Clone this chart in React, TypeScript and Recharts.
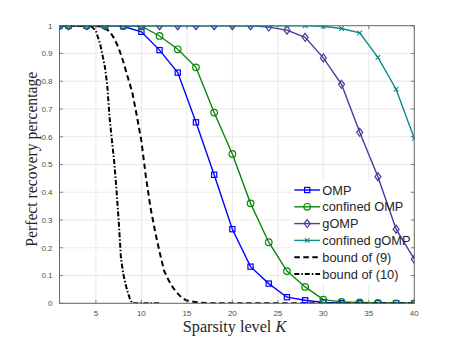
import React from 'react';
import { LineChart, Line, XAxis, YAxis, CartesianGrid, Customized } from 'recharts';

// ---------- data ----------
const kSeries = [1, 2, 4, 6, 8, 10, 12, 14, 16, 18, 20, 22, 24, 26, 28, 30, 32, 34, 36, 38, 40];
const ompVals = [1, 1, 1, 1, 0.998, 0.978, 0.912, 0.831, 0.652, 0.463, 0.267, 0.132, 0.071, 0.022, 0.011, 0.003, 0.001, 0, 0, 0, 0];
const confOmpVals = [1, 1, 1, 1, 1, 0.998, 0.963, 0.915, 0.85, 0.687, 0.538, 0.36, 0.22, 0.116, 0.059, 0.013, 0.005, 0.003, 0.001, 0, 0];
const gompVals = [1, 1, 1, 1, 1, 1, 1, 1, 1, 1, 1, 1, 0.995, 0.984, 0.958, 0.884, 0.789, 0.616, 0.456, 0.267, 0.159];
const confGompVals = [1, 1, 1, 1, 1, 1, 1, 1, 1, 1, 1, 1, 1, 1, 1, 0.998, 0.99, 0.974, 0.886, 0.771, 0.594];

const bound9K = [1, 2, 3, 4, 5, 5.5, 6, 6.5, 7, 7.5, 8, 8.5, 9, 9.5, 10, 10.5, 11, 11.5, 12, 12.5, 13, 13.5, 14, 14.5, 15, 16, 17, 18, 20, 25, 30, 35, 40];
const bound9Vals = [1, 1, 1, 1, 1, 0.997, 0.99, 0.98, 0.955, 0.92, 0.872, 0.815, 0.76, 0.675, 0.585, 0.455, 0.345, 0.26, 0.185, 0.117, 0.083, 0.055, 0.035, 0.018, 0.01, 0.004, 0.001, 0, 0, 0, 0, 0, 0];

const bound10K = [1, 2, 3, 4, 4.5, 5, 5.5, 6, 6.25, 6.5, 6.75, 7, 7.25, 7.5, 7.75, 8, 8.25, 8.5, 8.75, 9, 10, 11, 12];
const bound10Vals = [1, 1, 1, 1, 0.997, 0.982, 0.93, 0.85, 0.785, 0.67, 0.59, 0.515, 0.415, 0.3, 0.165, 0.108, 0.07, 0.04, 0.015, 0, 0, 0, 0];

const xTicks = [5, 10, 15, 20, 25, 30, 35, 40];
const yTicks = [0, 0.1, 0.2, 0.3, 0.4, 0.5, 0.6, 0.7, 0.8, 0.9, 1];
const yTickLabels = ['0', '0.1', '0.2', '0.3', '0.4', '0.5', '0.6', '0.7', '0.8', '0.9', '1'];

const seriesNames = ['OMP', 'confined OMP', 'gOMP', 'confined gOMP', 'bound of (9)', 'bound of (10)'];

const toRows = (ks: number[], vs: number[]) => ks.map((k, i) => ({ k, v: vs[i] }));
const ompData = toRows(kSeries, ompVals);
const confOmpData = toRows(kSeries, confOmpVals);
const gompData = toRows(kSeries, gompVals);
const confGompData = toRows(kSeries, confGompVals);
const bound9Data = toRows(bound9K, bound9Vals);
const bound10Data = toRows(bound10K, bound10Vals);

// ---------- styles ----------
const W = 450;
const H = 333;
const AX = 1; // axis thickness reserved
const MARGIN = { top: 17.7 - AX, right: 43.7 - AX, bottom: 37.7 - AX, left: 51.5 - AX };
const TM = 7;
const TL = 3.5;
const AXIS_COLOR = '#6a6a6a';
const GRID_COLOR = '#e6e6e6';
const TICK_TEXT = '#4d4d4d';
const SANS = '"Liberation Sans", Arial, Helvetica, sans-serif';
const SERIF = '"Liberation Serif", "Times New Roman", serif';

const C_OMP = '#0000ff';
const C_COMP = '#0b870b';
const C_GOMP = '#4a3a9c';
const C_CGOMP = '#0b8a8a';
const C_BOUND = '#000000';

const DASH9 = '5.5 3.5';
const DASH10 = '5 2 1.5 2';

// ---------- markers ----------
const Square = ({ cx, cy, c }: any) => (
  <rect x={cx - 2.6} y={cy - 2.6} width={5.2} height={5.2} fill="none" stroke={c} strokeWidth={1.2} />
);
const Circ = ({ cx, cy, c }: any) => <circle cx={cx} cy={cy} r={3.3} fill="none" stroke={c} strokeWidth={1.2} />;
const Diamond = ({ cx, cy, c }: any) => (
  <path d={`M${cx},${cy - 4} L${cx + 3},${cy} L${cx},${cy + 4} L${cx - 3},${cy} Z`} fill="none" stroke={c} strokeWidth={1.2} />
);
const XMark = ({ cx, cy, c }: any) => (
  <path d={`M${cx - 2.3},${cy - 2.3} L${cx + 2.3},${cy + 2.3} M${cx - 2.3},${cy + 2.3} L${cx + 2.3},${cy - 2.3}`} stroke={c} strokeWidth={1.1} />
);

const mk = (Comp: any, c: string) => (p: any) =>
  p.cx == null || p.cy == null ? <g key={`e${p.index}`} /> : <g key={`m${p.index}`}><Comp cx={p.cx} cy={p.cy} c={c} /></g>;

// ---------- ticks ----------
const LeftTick = (p: any) => {
  const { x, y, payload } = p;
  const ax = x + TM;
  const idx = yTicks.indexOf(payload.value);
  return (
    <g>
      <line x1={ax} x2={ax + TL} y1={y} y2={y} stroke={AXIS_COLOR} strokeWidth={0.8} />
      <text x={x} y={y} dy="0.35em" textAnchor="end" fontSize={8} fontFamily={SANS} fill={TICK_TEXT}>
        {idx >= 0 ? yTickLabels[idx] : String(payload.value)}
      </text>
    </g>
  );
};
const RightTick = (p: any) => {
  const { x, y } = p;
  const ax = x - TM;
  return <line x1={ax} x2={ax - TL} y1={y} y2={y} stroke={AXIS_COLOR} strokeWidth={0.8} />;
};
const BottomTick = (p: any) => {
  const { x, y, payload } = p;
  const ay = y - TM;
  return (
    <g>
      <line x1={x} x2={x} y1={ay} y2={ay - TL} stroke={AXIS_COLOR} strokeWidth={0.8} />
      <text x={x} y={ay + 12.4} textAnchor="middle" fontSize={8} fontFamily={SANS} fill={TICK_TEXT}>
        {String(payload.value)}
      </text>
    </g>
  );
};
const TopTick = (p: any) => {
  const { x, y } = p;
  const ay = y + TM;
  return <line x1={x} x2={x} y1={ay} y2={ay + TL} stroke={AXIS_COLOR} strokeWidth={0.8} />;
};

// legend background (covers grid, drawn under the series)
const LegendBg = () => <rect x={284} y={173} width={119} height={103} fill="#ffffff" />;

// ---------- legend overlay ----------
const legendRows = [
  { name: seriesNames[0], color: C_OMP, dash: undefined, M: Square, w: 1.4 },
  { name: seriesNames[1], color: C_COMP, dash: undefined, M: Circ, w: 1.4 },
  { name: seriesNames[2], color: C_GOMP, dash: undefined, M: Diamond, w: 1.4 },
  { name: seriesNames[3], color: C_CGOMP, dash: undefined, M: XMark, w: 1.4 },
  { name: seriesNames[4], color: C_BOUND, dash: DASH9, M: null, w: 2 },
  { name: seriesNames[5], color: C_BOUND, dash: DASH10, M: null, w: 2 },
];

const LegendOverlay = () => (
  <svg width={W} height={H} style={{ position: 'absolute', left: 0, top: 0, pointerEvents: 'none' }}>
    {legendRows.map((r, i) => {
      const y = 182 + i * 16.8;
      const M = r.M as any;
      return (
        <g key={r.name}>
          <line x1={286.3} x2={312} y1={y} y2={y} stroke={r.color} strokeWidth={r.w} strokeDasharray={r.dash} />
          {M ? <M cx={299.2} cy={y} c={r.color} /> : null}
          <text x={314.3} y={y} dy="0.36em" fontSize={12.8} fontFamily={SANS} fill="#262626">
            {r.name}
          </text>
        </g>
      );
    })}
    <text x={226.5} y={323.7} textAnchor="middle" fontSize={16.2} fontFamily={SERIF} fill="#262626">
      Sparsity level <tspan fontStyle="italic">K</tspan>
    </text>
    <text
      x={29.5}
      y={151.2}
      transform="rotate(-90 29.5 151.2)"
      textAnchor="middle"
      fontSize={15.7}
      fontFamily={SERIF}
      fill="#262626"
    >
      Perfect recovery percentage
    </text>
  </svg>
);

export default function App() {
  return (
    <div style={{ position: 'relative', width: W, height: H }}>
      <LineChart width={W} height={H} margin={MARGIN}>
        <CartesianGrid stroke={GRID_COLOR} strokeWidth={0.9} />
        <XAxis
          xAxisId={0}
          type="number"
          dataKey="k"
          domain={[1, 40]}
          ticks={xTicks}
          height={AX}
          tickSize={0}
          tickMargin={TM}
          tick={BottomTick}
          axisLine={{ stroke: AXIS_COLOR, strokeWidth: 1 }}
          allowDataOverflow
          interval={0}
        />
        <XAxis
          xAxisId="top"
          orientation="top"
          type="number"
          dataKey="k"
          domain={[1, 40]}
          ticks={xTicks}
          height={AX}
          tickSize={0}
          tickMargin={TM}
          tick={TopTick}
          axisLine={{ stroke: AXIS_COLOR, strokeWidth: 1 }}
          allowDataOverflow
          interval={0}
        />
        <YAxis
          yAxisId={0}
          type="number"
          domain={[0, 1]}
          ticks={yTicks}
          width={AX}
          tickSize={0}
          tickMargin={TM}
          tick={LeftTick}
          axisLine={{ stroke: AXIS_COLOR, strokeWidth: 1 }}
          allowDataOverflow
          interval={0}
        />
        <YAxis
          yAxisId="right"
          orientation="right"
          type="number"
          domain={[0, 1]}
          ticks={yTicks}
          width={AX}
          tickSize={0}
          tickMargin={TM}
          tick={RightTick}
          axisLine={{ stroke: AXIS_COLOR, strokeWidth: 1 }}
          allowDataOverflow
          interval={0}
        />
        <Customized component={LegendBg} />
        <Line xAxisId={0} yAxisId={0} data={ompData} dataKey="v" name={seriesNames[0]} stroke={C_OMP} strokeWidth={1.4} dot={mk(Square, C_OMP)} isAnimationActive={false} type="linear" />
        <Line xAxisId={0} yAxisId={0} data={confOmpData} dataKey="v" name={seriesNames[1]} stroke={C_COMP} strokeWidth={1.4} dot={mk(Circ, C_COMP)} isAnimationActive={false} type="linear" />
        <Line xAxisId={0} yAxisId={0} data={gompData} dataKey="v" name={seriesNames[2]} stroke={C_GOMP} strokeWidth={1.4} dot={mk(Diamond, C_GOMP)} isAnimationActive={false} type="linear" />
        <Line xAxisId="top" yAxisId="right" data={confGompData} dataKey="v" name={seriesNames[3]} stroke={C_CGOMP} strokeWidth={1.4} dot={mk(XMark, C_CGOMP)} isAnimationActive={false} type="linear" />
        <Line xAxisId={0} yAxisId={0} data={bound9Data} dataKey="v" name={seriesNames[4]} stroke={C_BOUND} strokeWidth={2} strokeDasharray={DASH9} dot={false} isAnimationActive={false} type="linear" />
        <Line xAxisId={0} yAxisId={0} data={bound10Data} dataKey="v" name={seriesNames[5]} stroke={C_BOUND} strokeWidth={2} strokeDasharray={DASH10} dot={false} isAnimationActive={false} type="linear" />
      </LineChart>
      <LegendOverlay />
    </div>
  );
}
